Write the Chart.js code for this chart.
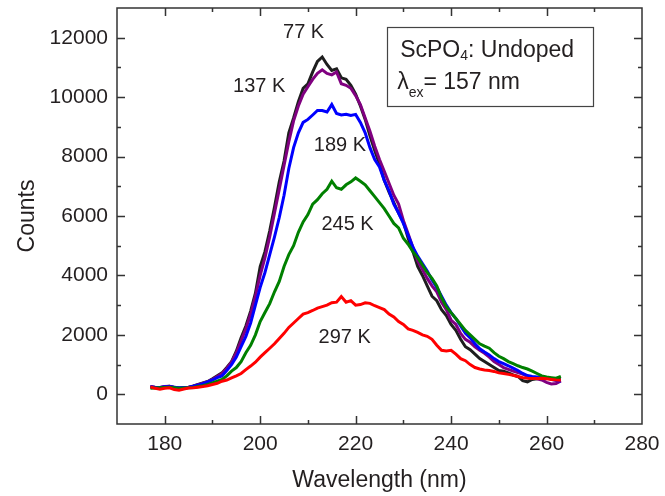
<!DOCTYPE html>
<html>
<head>
<meta charset="utf-8">
<script src="https://cdn.jsdelivr.net/npm/chart.js@4.4.1/dist/chart.umd.min.js"></script>
<style>
  html, body { margin: 0; padding: 0; background: #fff; }
</style>
</head>
<body>
<canvas id="pl" width="665" height="496"></canvas>
<script>
// wavelength grid (nm)
const wavelength = [
  177, 178, 179, 180, 181, 182, 183, 184, 185, 186, 187, 188, 189, 190,
  191, 192, 193, 194, 195, 196, 197, 198, 199, 200, 201, 202, 203, 204,
  205, 206, 207, 208, 209, 210, 211, 212, 213, 214, 215, 216, 217, 218,
  219, 220, 221, 222, 223, 224, 225, 226, 227, 228, 229, 230, 231, 232,
  233, 234, 235, 236, 237, 238, 239, 240, 241, 242, 243, 244, 245, 246,
  247, 248, 249, 250, 251, 252, 253, 254, 255, 256, 257, 258, 259, 260,
  261, 262, 263
];

// counts
const counts77K = [
  250, 230, 220, 250, 270, 230, 200, 210, 230, 280, 330, 380, 430, 520,
  620, 720, 900, 1100, 1450, 1900, 2300, 2800, 3400, 4300, 4800, 5500, 6300, 7150,
  7850, 8800, 9300, 9850, 10300, 10450, 10850, 11200, 11350, 11100, 10900, 10950, 10650, 10600,
  10400, 10100, 9700, 9250, 8700, 8200, 7750, 7200, 6800, 6450, 6100, 5800, 5250, 4800,
  4300, 4000, 3650, 3300, 3150, 2850, 2650, 2350, 2150, 1850, 1600, 1500, 1350, 1200,
  1100, 1000, 900, 800, 780, 720, 650, 600, 460, 420, 500, 520, 540, 560,
  530, 500, 520
];
const counts137K = [
  260, 240, 230, 260, 270, 230, 210, 220, 240, 270, 320, 370, 420, 500,
  600, 700, 870, 1080, 1400, 1800, 2200, 2700, 3300, 4000, 4600, 5300, 6100, 6900,
  7700, 8500, 9200, 9700, 10100, 10350, 10600, 10800, 10920, 10800, 10750, 10850, 10450, 10400,
  10300, 10050, 9750, 9300, 8850, 8350, 7900, 7500, 7100, 6700, 6400, 5850, 5400, 4950,
  4500, 4200, 3900, 3650, 3450, 3100, 2850, 2500, 2350, 2050, 1850, 1750, 1600, 1480,
  1380, 1250, 1100, 1000, 900, 840, 780, 730, 680, 600, 560, 520, 480, 400,
  350, 360, 450
];
const counts189K = [
  250, 230, 230, 250, 260, 240, 220, 230, 240, 270, 310, 360, 420, 480,
  560, 620, 800, 1000, 1250, 1600, 1950, 2400, 3000, 3600, 4100, 4700, 5300, 5950,
  6700, 7600, 8300, 8800, 9150, 9250, 9400, 9550, 9550, 9500, 9750, 9450, 9400, 9420,
  9380, 9420, 9150, 8800, 8300, 7900, 7650, 7200, 6850, 6400, 6100, 5750, 5350, 4950,
  4650, 4400, 4150, 3850, 3600, 3300, 3000, 2750, 2550, 2300, 2050, 1900, 1700, 1530,
  1420, 1320, 1200, 1100, 1030, 960, 880, 800, 700, 630, 600, 580, 560, 560,
  500, 460, 450
];
const counts245K = [
  200, 210, 220, 230, 240, 220, 200, 210, 220, 230, 260, 290, 330, 380,
  440, 500, 620, 780, 900, 1100, 1400, 1650, 2000, 2450, 2750, 3050, 3450, 3800,
  4300, 4700, 5000, 5450, 5800, 6050, 6400, 6550, 6750, 6900, 7170, 6950, 6900, 7050,
  7150, 7280, 7170, 7050, 6850, 6650, 6450, 6250, 6000, 5750, 5600, 5250, 5050, 4800,
  4600, 4350, 4100, 3900, 3650, 3250, 2950, 2750, 2550, 2350, 2150, 2000, 1850, 1700,
  1620, 1550, 1400, 1280, 1200, 1100, 1030, 960, 900, 850, 780, 700, 620, 580,
  560, 540, 600
];
const counts297K = [
  250, 200, 170, 200, 220, 160, 140, 180, 210, 220, 240, 260, 290, 330,
  370, 440, 480, 550, 620, 700, 830, 950, 1080, 1250, 1400, 1550, 1700, 1880,
  2050, 2250, 2400, 2550, 2700, 2750, 2820, 2900, 2950, 3000, 3080, 3100, 3290, 3100,
  3150, 3000, 3020, 3080, 3060, 2980, 2920, 2850, 2700, 2600, 2450, 2350, 2200, 2150,
  2080, 2000, 1950, 1850, 1650, 1480, 1460, 1480, 1350, 1200, 1130, 1000, 900, 850,
  820, 800, 770, 720, 700, 670, 640, 600, 560, 540, 530, 530, 540, 520,
  500, 480, 470
];

const xTicks = [180, 200, 220, 240, 260, 280];
const yTicks = [0, 2000, 4000, 6000, 8000, 10000, 12000];

// temperature labels and where they sit (nm, counts)
const tempLabels = ['77 K', '137 K', '189 K', '245 K', '297 K'];
const tempLabelAt = [[209.1, 12180], [199.8, 10360], [216.7, 8370], [218.3, 5710], [217.7, 1900]];

const FONT = '"Liberation Sans", Arial, Helvetica, sans-serif';
const INK = '#231f20';

function pts(ys) {
  return wavelength.map((w, i) => ({ x: w, y: ys[i] }));
}

function line(ys, color) {
  return {
    data: pts(ys),
    borderColor: color,
    backgroundColor: color,
    borderWidth: 3,
    pointRadius: 0,
    tension: 0,
    fill: false
  };
}

// frame box with inward major/minor ticks, labels, info box
const decor = {
  id: 'decor',
  afterDraw(chart) {
    const { ctx, chartArea: a, scales: { x, y } } = chart;
    ctx.save();
    ctx.strokeStyle = '#333';
    ctx.lineWidth = 1.5;
    ctx.strokeRect(a.left, a.top, a.right - a.left, a.bottom - a.top);

    ctx.beginPath();
    for (let v = 180; v < 280; v += 10) {
      const len = v % 20 === 0 ? 8 : 4;
      const px = Math.round(x.getPixelForValue(v)) + 0.5;
      ctx.moveTo(px, a.bottom); ctx.lineTo(px, a.bottom - len);
      ctx.moveTo(px, a.top); ctx.lineTo(px, a.top + len);
    }
    for (let v = 0; v < 13000; v += 1000) {
      const len = v % 2000 === 0 ? 8 : 4;
      const py = Math.round(y.getPixelForValue(v)) + 0.5;
      ctx.moveTo(a.left, py); ctx.lineTo(a.left + len, py);
      ctx.moveTo(a.right, py); ctx.lineTo(a.right - len, py);
    }
    ctx.stroke();

    ctx.fillStyle = INK;
    ctx.font = '20px ' + FONT;
    ctx.textAlign = 'center';
    ctx.textBaseline = 'middle';
    tempLabels.forEach((t, i) => {
      ctx.fillText(t, x.getPixelForValue(tempLabelAt[i][0]), y.getPixelForValue(tempLabelAt[i][1]));
    });

    // info box
    const bl = x.getPixelForValue(226.6), br = x.getPixelForValue(269.8);
    const bt = y.getPixelForValue(12365), bb = y.getPixelForValue(9710);
    ctx.lineWidth = 1.2;
    ctx.strokeStyle = '#444';
    ctx.strokeRect(Math.round(bl) + 0.5, Math.round(bt) + 0.5, Math.round(br - bl), Math.round(bb - bt));

    ctx.textAlign = 'left';
    ctx.textBaseline = 'alphabetic';
    const big = '23px ' + FONT, small = '14px ' + FONT;
    let tx = bl + 13, ty = bt + 30;
    ctx.font = big; ctx.fillText('ScPO', tx, ty); tx += ctx.measureText('ScPO').width;
    ctx.font = small; ctx.fillText('4', tx, ty + 3); tx += ctx.measureText('4').width;
    ctx.font = big; ctx.fillText(': Undoped', tx, ty);

    tx = bl + 10; ty = bt + 62;
    ctx.font = big; ctx.fillText('\u03bb', tx, ty); tx += ctx.measureText('\u03bb').width;
    ctx.font = small; ctx.fillText('ex', tx, ty + 8); tx += ctx.measureText('ex').width;
    ctx.font = big; ctx.fillText('= 157 nm', tx, ty);
    ctx.restore();
  }
};

new Chart(document.getElementById('pl'), {
  type: 'line',
  data: {
    datasets: [
      line(counts297K, '#ff0000'),
      line(counts245K, '#008000'),
      line(counts189K, '#0000ff'),
      line(counts137K, '#800080'),
      line(counts77K, '#1e1e1e')
    ]
  },
  options: {
    responsive: false,
    animation: false,
    layout: { padding: { top: 8, right: 23, left: 0, bottom: 0 } },
    plugins: { legend: { display: false }, tooltip: { enabled: false } },
    scales: {
      x: {
        type: 'linear',
        min: 170,
        max: 280,
        afterBuildTicks: s => { s.ticks = xTicks.map(v => ({ value: v })); },
        afterFit: s => { s.height = 72; s.paddingLeft = 0; s.paddingRight = 0; },
        grid: { display: false, drawTicks: false },
        border: { display: false },
        ticks: { color: INK, font: { family: FONT, size: 21 }, padding: 8, maxRotation: 0, callback: v => String(v) },
        title: { display: true, text: 'Wavelength (nm)', color: INK, font: { family: FONT, size: 23 }, padding: { top: 0, bottom: 2 } }
      },
      y: {
        min: -1000,
        max: 13000,
        afterBuildTicks: s => { s.ticks = yTicks.map(v => ({ value: v })); },
        afterFit: s => { s.width = 117; s.paddingTop = 0; s.paddingBottom = 0; },
        grid: { display: false, drawTicks: false },
        border: { display: false },
        ticks: { color: INK, font: { family: FONT, size: 21 }, padding: 9, callback: v => String(v) },
        title: { display: true, text: 'Counts', color: INK, font: { family: FONT, size: 23 }, padding: { top: 14, bottom: 0 } }
      }
    }
  },
  plugins: [decor]
});
</script>
</body>
</html>
